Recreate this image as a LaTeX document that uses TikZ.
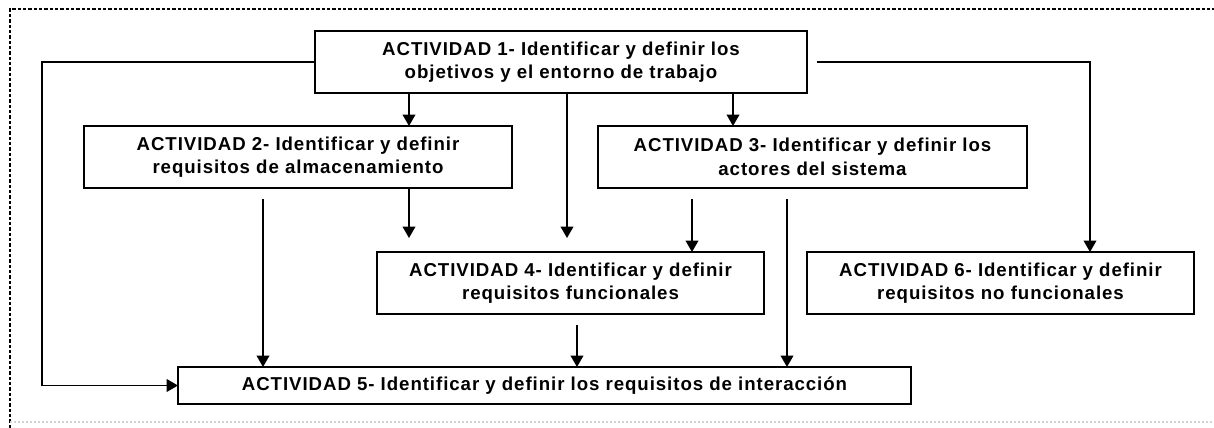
\documentclass[tikz,border=0pt]{standalone}
\usepackage{fontspec}
\setmainfont{Liberation Sans}[LetterSpace=5]
\usetikzlibrary{arrows.meta}
\begin{document}
\begin{tikzpicture}[x=0.75pt,y=-0.75pt,
  box/.style={draw=black,line width=1.3pt,inner sep=0pt,outer sep=0pt,align=center,
    font=\fontsize{14}{17.6}\selectfont\bfseries,minimum height=46.5pt},
  arr/.style={line width=1.1pt,-{Triangle[width=9.5pt,length=8.5pt]}},
  ln/.style={line width=1.1pt}]
\useasboundingbox (0,0) rectangle (1214,428);
\fill[white] (0,0) rectangle (1214,428);
% frame
\draw[line width=0.8pt,dash pattern=on 2.5pt off 1.5pt] (10,428) -- (10,9) -- (1214,9);
\draw[line width=0.8pt,gray!35,dash pattern=on 1.5pt off 1.5pt] (10,422) -- (1214,422);
% boxes
\node[box,minimum width=369pt] (a1) at (561,62) {ACTIVIDAD 1- Identificar y definir los\\objetivos y el entorno de trabajo};
\node[box,minimum width=321pt] (a2) at (298,157) {ACTIVIDAD 2- Identificar y definir\\requisitos de almacenamiento};
\node[box,minimum width=321.75pt] (a3) at (812.5,157) {ACTIVIDAD 3- Identificar y definir los\\actores del sistema};
\node[box,minimum width=290.25pt] (a4) at (570.5,283) {ACTIVIDAD 4- Identificar y definir\\requisitos funcionales};
\node[box,minimum width=290.25pt] (a6) at (1000.5,283) {ACTIVIDAD 6- Identificar y definir\\requisitos no funcionales};
\node[box,minimum width=549.75pt,minimum height=27.75pt] (a5) at (544.5,385.5) {ACTIVIDAD 5- Identificar y definir los requisitos de interacción};
% helper coordinates
\coordinate (x263) at (263,199);
\coordinate (x409) at (409,238);
\coordinate (x567) at (567,238);
\coordinate (x577) at (577,325);
\coordinate (x692) at (692,199);
\coordinate (x733) at (733,0);
\coordinate (x787) at (787,199);
\coordinate (x1090) at (1090,0);
\coordinate (r1) at (817,62);
% connectors
\draw[arr] (a1.west) -- ++(-273,0) |- (a5.west);
\draw[arr] (a1.south -| x409) -- (a2.north -| x409);
\draw[arr] (a1.south -| x733) -- (a3.north -| x733);
\draw[arr] (a1.south -| x567) -- (x567);
\draw[arr] (r1) -| (a6.north -| x1090);
\draw[arr] (a2.south -| x409) -- (x409);
\draw[arr] (x263) -- (a5.north -| x263);
\draw[arr] (x692) -- (a4.north -| x692);
\draw[arr] (x787) -- (a5.north -| x787);
\draw[arr] (x577) -- (a5.north -| x577);
\end{tikzpicture}
\end{document}
